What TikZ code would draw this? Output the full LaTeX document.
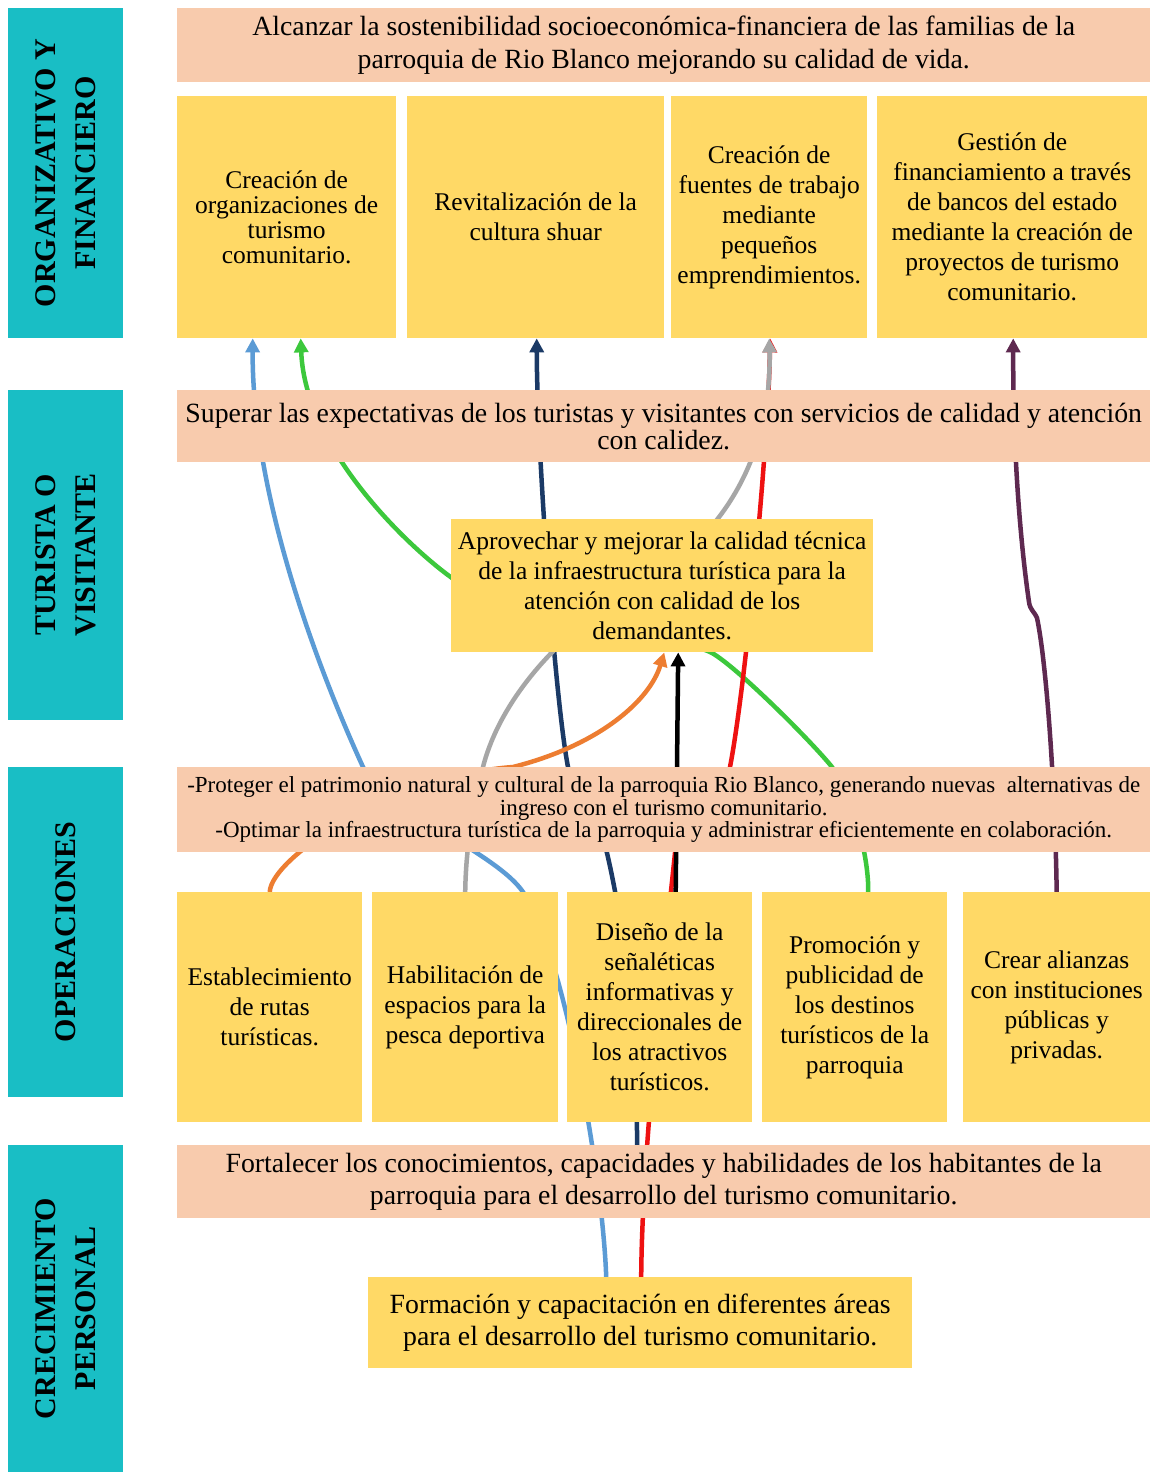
\documentclass[tikz,border=0pt]{standalone}
\usepackage{fontspec}
\setmainfont{Liberation Serif}
\newfontfamily\labfont{Liberation Serif}
\usetikzlibrary{arrows.meta,calc}
\pgfdeclarelayer{bg}
\pgfsetlayers{bg,main}
\definecolor{salmon}{HTML}{F8CBAD}
\definecolor{ylw}{HTML}{FFD966}
\definecolor{tealc}{HTML}{19BEC5}
\definecolor{clb}{HTML}{5B9BD5}
\definecolor{cgr}{HTML}{3CC83C}
\definecolor{cnv}{HTML}{1B3A66}
\definecolor{cgy}{HTML}{A6A6A6}
\definecolor{crd}{HTML}{EE1111}
\definecolor{cor}{HTML}{ED7D31}
\definecolor{cpu}{HTML}{5E2950}
\begin{document}
\begin{tikzpicture}[x=1pt,y=-1pt,
  box/.style={anchor=north west, inner sep=0pt, align=center, text=black},
  band/.style={box, fill=salmon, minimum width=973pt},
  ybox/.style={box, fill=ylw},
  lab/.style={anchor=center, inner sep=0pt, align=center, fill=tealc, rotate=90,
    minimum height=115pt, font=\labfont\bfseries\fontsize{30}{40}\selectfont},
  txt/.style={font=\fontsize{25.5}{30}\selectfont},
  conn/.style={line width=4.5pt, -{Triangle[length=14pt,width=14pt]}}
]
\useasboundingbox (0,0) rectangle (1153,1472);

% left labels
\node[lab, minimum width=330pt] (l1) at (65.5,173) {ORGANIZATIVO Y\\FINANCIERO};
\node[lab, minimum width=330pt] (l2) at (65.5,555) {TURISTA O\\VISITANTE};
\node[lab, minimum width=330pt] (l3) at (65.5,932) {OPERACIONES};
\node[lab, minimum width=327pt] (l4) at (65.5,1308.5) {CRECIMIENTO\\PERSONAL};

% bands
\node[band, minimum height=74pt, font=\fontsize{27.8}{33}\selectfont] (b1) at (177,8)
  {Alcanzar la sostenibilidad socioeconómica-financiera de las familias de la\\parroquia de Rio Blanco mejorando su calidad de vida.};
\node[band, minimum height=72pt, font=\fontsize{27.8}{27}\selectfont] (b2) at (177,390)
  {Superar las expectativas de los turistas y visitantes con servicios de calidad y atención\\con calidez.};
\node[band, minimum height=85pt, font=\fontsize{23}{22.5}\selectfont] (b3) at (177,767)
  {-Proteger el patrimonio natural y cultural de la parroquia Rio Blanco, generando nuevas\ \ alternativas de\\ingreso con el turismo comunitario.\\-Optimar la infraestructura turística de la parroquia y administrar eficientemente en colaboración.};
\node[band, minimum height=73pt, font=\fontsize{27.8}{32}\selectfont] (fort) at (177,1145)
  {Fortalecer los conocimientos, capacidades y habilidades de los habitantes de la\\parroquia para el desarrollo del turismo comunitario.};

% row 1
\node[ybox, minimum width=219pt, minimum height=242pt, font=\fontsize{25.5}{25}\selectfont] (org) at (177,96)
  {Creación de\\organizaciones de\\turismo\\comunitario.};
\node[ybox, txt, minimum width=257pt, minimum height=242pt] (rev) at (407,96)
  {Revitalización de la\\cultura shuar};
\node[ybox, txt, minimum width=196pt, minimum height=242pt] (fue) at (671,96)
  {Creación de\\fuentes de trabajo\\mediante\\pequeños\\emprendimientos.};
\node[ybox, txt, minimum width=270pt, minimum height=242pt] (ges) at (877,96)
  {Gestión de\\financiamiento a través\\de bancos del estado\\mediante la creación de\\proyectos de turismo\\comunitario.};

% middle
\node[ybox, txt, minimum width=422pt, minimum height=133pt] (aprov) at (451,519)
  {Aprovechar y mejorar la calidad técnica\\de la infraestructura turística para la\\atención con calidad de los\\demandantes.};

% row 3
\node[ybox, txt, minimum width=185pt, minimum height=230pt] (est) at (177,892)
  {Establecimiento\\de rutas\\turísticas.};
\node[ybox, txt, minimum width=186pt, minimum height=230pt] (hab) at (372,892)
  {Habilitación de\\espacios para la\\pesca deportiva};
\node[ybox, txt, minimum width=185pt, minimum height=230pt] (dis) at (567,892)
  {Diseño de la\\señaléticas\\informativas y\\direccionales de\\los atractivos\\turísticos.};
\node[ybox, txt, minimum width=185pt, minimum height=230pt] (pro) at (762,892)
  {Promoción y\\publicidad de\\los destinos\\turísticos de la\\parroquia};
\node[ybox, txt, minimum width=187pt, minimum height=230pt] (ali) at (963,892)
  {Crear alianzas\\con instituciones\\públicas y\\privadas.};

% bottom
\node[ybox, minimum width=544pt, minimum height=91pt, font=\fontsize{27.8}{32}\selectfont] (form) at (368,1277)
  {Formación y capacitación en diferentes áreas\\para el desarrollo del turismo comunitario.};

\begin{pgfonlayer}{bg}
\fill[white] (0,0) rectangle (1153,1472);
% light blue
\draw[conn, clb] ([xshift=-34pt]form.north) .. controls (603,1180) and (565,955) .. (523,892)
  .. controls (497,853) and (383,808) .. (363,767)
  .. controls (305,640) and (252,480) .. ([xshift=-34pt]org.south);
% green
\draw[conn, cgr] ([xshift=13.5pt]pro.north) .. controls (869,860) and (855,800) .. (832,767)
  .. controls (812,742) and (737,667) .. (712,653)
  .. controls (687,639) and (480,598) .. (452,578)
  .. controls (410,548) and (305,450) .. ([xshift=14pt]org.south);
% navy
\draw[conn, cnv] ([xshift=-26.5pt]fort.north) .. controls (636,1030) and (625,930) .. (607,853)
  .. controls (595,805) and (575,800) .. (568,767)
  .. controls (555,700) and (537,450) .. ([xshift=1pt]rev.south);
% red
\draw[conn, crd] ([xshift=1pt]form.north) .. controls (642,1150) and (665,950) .. (675,853)
  .. controls (680,815) and (722,805) .. (730,767)
  .. controls (745,690) and (768,450) .. ([xshift=1pt]fue.south);
% gray
\draw[conn, cgy] (hab.north) .. controls (466,840) and (475,800) .. (483,767)
  .. controls (500,700) and (560,630) .. (640,585)
  .. controls (720,540) and (772,460) .. (fue.south);
% orange
\draw[conn, cor] (est.north) .. controls (272,855) and (400,775) .. (513,767)
  .. controls (600,745) and (650,700) .. ([xshift=2pt]aprov.south);
% black
\draw[conn, black] ([xshift=16pt]dis.north) -- ([xshift=16pt]aprov.south);
% purple
\draw[conn, cpu] (ali.north) .. controls (1055,780) and (1046,660) .. (1037,618)
  .. controls (1034,611) and (1030,610) .. (1029,602)
  .. controls (1020,540) and (1013,450) .. ([xshift=1pt]ges.south);
\end{pgfonlayer}
\end{tikzpicture}
\end{document}
